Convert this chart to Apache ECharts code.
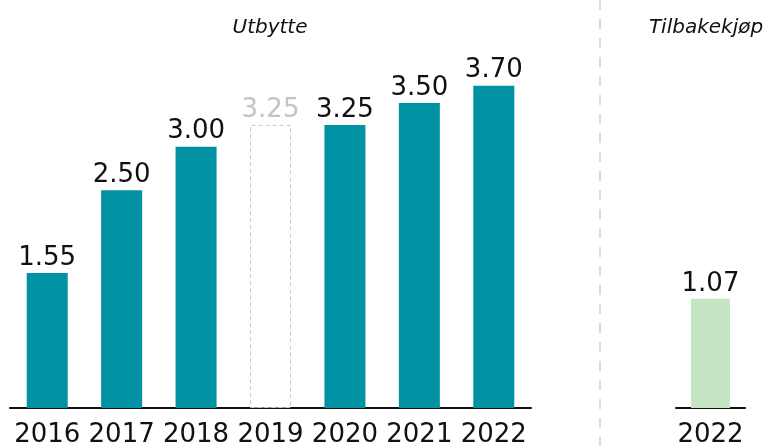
<!DOCTYPE html>
<html>
<head>
<meta charset="utf-8">
<script src="https://cdn.jsdelivr.net/npm/echarts@6/dist/echarts.min.js"></script>
<style>
  html, body { margin: 0; padding: 0; background: #fff; }
  #chart { width: 764px; height: 446px; }
</style>
</head>
<body>
<div id="chart"></div>
<script>
// Dividend per share by year, and share buyback
const years = ['2016', '2017', '2018', '2019', '2020', '2021', '2022'];
const dividend = [1.55, 2.50, 3.00, 3.25, 3.25, 3.50, 3.70];
// 2019 dividend was proposed but not paid: drawn hollow
const withheldYear = '2019';
const buybackYears = ['2022'];
const buyback = [1.07];
const panelTitles = ['Utbytte', 'Tilbakekjøp'];

const FONT = '"DejaVu Sans", Verdana, sans-serif';
const TEAL = '#0091a2';
const GREEN = '#c6e6c3';

const chart = echarts.init(document.getElementById('chart'));

const dividendData = dividend.map((v, i) => {
  if (years[i] === withheldYear) {
    return {
      value: v,
      itemStyle: { color: '#fff', borderColor: '#c8c8c8', borderType: [4, 3], borderWidth: 1 },
      label: { color: '#c4c4c4' }
    };
  }
  return v;
});

const labelBase = {
  show: true,
  position: 'top',
  distance: 2,
  fontFamily: FONT,
  fontSize: 26,
  color: '#111',
  formatter: p => Number(p.value).toFixed(2)
};

const axisX = (gridIndex, data) => ({
  type: 'category',
  gridIndex,
  data,
  axisLine: { show: true, lineStyle: { color: '#111', width: 2 } },
  axisTick: { show: false },
  axisLabel: { interval: 0, fontFamily: FONT, fontSize: 26, color: '#111', margin: 14 }
});

const axisY = (gridIndex, max) => ({
  type: 'value',
  gridIndex,
  min: 0,
  max,
  show: false,
  splitLine: { show: false }
});

const titleText = (text, x) => ({
  type: 'text',
  x,
  y: 28,
  silent: true,
  style: {
    text,
    align: 'center',
    verticalAlign: 'middle',
    font: 'italic 20px ' + FONT,
    fill: '#111'
  }
});

chart.setOption({
  animation: false,
  grid: [
    { left: 10, width: 521, top: 16, bottom: 38, containLabel: false, outerBoundsMode: 'none' },
    { left: 676, width: 69, top: 0, bottom: 38, containLabel: false, outerBoundsMode: 'none' }
  ],
  xAxis: [axisX(0, years), axisX(1, buybackYears)],
  yAxis: [axisY(0, 4.5), axisY(1, 4)],
  graphic: [
    {
      type: 'line',
      shape: { x1: 600, y1: 0, x2: 600, y2: 446 },
      style: { stroke: '#dcdcdc', lineWidth: 2, lineDash: [10, 9] },
      silent: true
    },
    titleText(panelTitles[0], 270),
    titleText(panelTitles[1], 706)
  ],
  series: [
    {
      type: 'bar',
      xAxisIndex: 0,
      yAxisIndex: 0,
      data: dividendData,
      barWidth: 41,
      itemStyle: { color: TEAL },
      label: labelBase
    },
    {
      type: 'bar',
      xAxisIndex: 1,
      yAxisIndex: 1,
      data: buyback,
      barWidth: 39,
      itemStyle: { color: GREEN },
      label: labelBase
    }
  ]
});
</script>
</body>
</html>
